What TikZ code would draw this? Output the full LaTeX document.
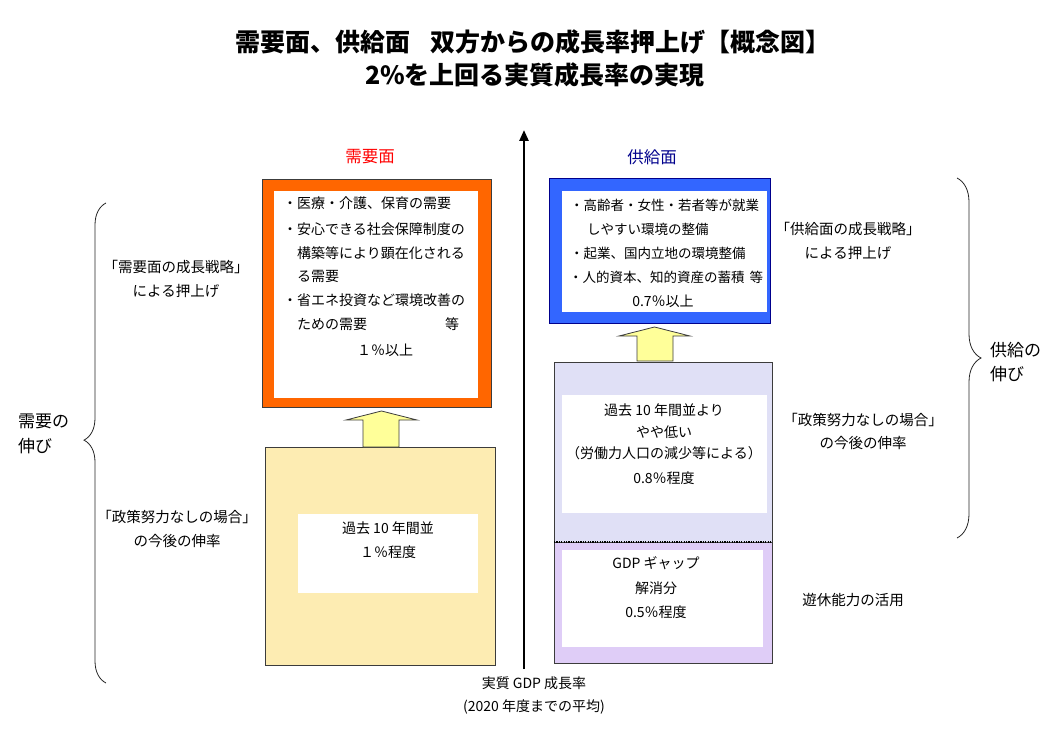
\documentclass[tikz,border=0pt]{standalone}
\usepackage{fontspec}
\setmainfont{Noto Sans CJK JP}
\usetikzlibrary{arrows.meta,decorations.pathreplacing}
\newcommand\myfs[1]{\fontsize{#1}{#1}\selectfont}
\definecolor{orng}{RGB}{255,102,0}
\definecolor{blu}{RGB}{51,102,255}
\definecolor{ylw}{RGB}{253,236,178}
\definecolor{lav}{RGB}{224,224,246}
\definecolor{purp}{RGB}{223,205,247}
\definecolor{arrowy}{RGB}{255,255,153}
\definecolor{navy}{RGB}{0,0,140}
\definecolor{edge}{RGB}{60,60,60}
\tikzset{
  box/.style={anchor=north west, inner sep=0pt, outer sep=0pt},
  txt/.style={inner sep=0pt, font=\myfs{14}},
  btxt/.style={inner sep=0pt, font=\myfs{13.5}},
  lbl/.style={inner sep=0pt, font=\myfs{14.5}},
  big/.style={inner sep=0pt, font=\myfs{17}},
  barrow/.style={draw=edge, line width=0.8pt, fill=arrowy, line join=miter},
  bracestyle/.style={draw=black!85, line width=0.8pt, decorate},
}
\begin{document}
\begin{tikzpicture}[x=1pt,y=-1pt]
\useasboundingbox (0,0) rectangle (1052,738);

% title
\node[inner sep=0pt, font=\bfseries\myfs{25}] (t1) at (533,42) {需要面、供給面\hspace{0.8em}双方からの成長率押上げ【概念図】};
\node[inner sep=0pt, font=\bfseries\myfs{25}] (t2) at (535,75) {2\%を上回る実質成長率の実現};

% axis
\coordinate (axb) at (524,669);
\coordinate (axt) at (524,130);
\draw[line width=2.4pt, -{Triangle[length=11pt,width=9pt]}] (axb) -- (axt);
\node[inner sep=0pt, font=\myfs{14}] (ax1) at (534,683) {実質 GDP 成長率};
\node[inner sep=0pt, font=\myfs{14}] (ax2) at (534,707) {(2020 年度までの平均)};

% column headings
\node[inner sep=0pt, font=\myfs{16.5}, text=red] (hd) at (370,157) {需要面};
\node[inner sep=0pt, font=\myfs{16.5}, text=navy] (hs) at (652,157) {供給面};

% demand side boxes
\node[box, draw=edge, line width=0.6pt, fill=orng, minimum width=229pt, minimum height=228pt] (demo) at (262,179) {};
\node[box, fill=white, minimum width=204pt, minimum height=207pt] (demi) at (274,191) {};
\node[box, draw=edge, line width=0.6pt, fill=ylw, minimum width=230pt, minimum height=218pt] (yel) at (265,447) {};
\node[box, fill=white, minimum width=180pt, minimum height=79pt] (yeli) at (298,514) {};

% supply side boxes
\node[box, draw=navy, line width=0.6pt, fill=blu, minimum width=221pt, minimum height=145pt] (sup) at (549,178) {};
\node[box, fill=white, minimum width=205pt, minimum height=121pt] (supi) at (562,191) {};
\node[box, draw=edge, line width=0.6pt, fill=lav, minimum width=218pt, minimum height=180pt] (dot) at (554,362) {};
\node[box, fill=white, minimum width=205pt, minimum height=118pt] (doti) at (562,395) {};
\node[box, draw=edge, line width=0.6pt, fill=purp, minimum width=218pt, minimum height=121pt] (pur) at (554,542) {};
\node[box, fill=white, minimum width=201pt, minimum height=97pt] (puri) at (562,550) {};
\draw[line width=1.8pt, dash pattern=on 1.2pt off 1.2pt] (dot.south west) -- (dot.south east);

% block arrows
\draw[barrow] (363,447) -- (363,420) -- (346,420) -- (381.5,411) -- (417,420) -- (399,420) -- (399,447) -- cycle;
\draw[barrow] (637,361) -- (637,336) -- (619,336) -- (654.5,327) -- (690,336) -- (673,336) -- (673,361) -- cycle;

% orange box text
\node[txt, anchor=west] (o1) at (283,203) {・医療・介護、保育の需要};
\node[txt, anchor=west] (o2) at (283,229) {・安心できる社会保障制度の};
\node[txt, anchor=west] (o3) at (297,253) {構築等により顕在化される};
\node[txt, anchor=west] (o4) at (297,276) {る需要};
\node[txt, anchor=west] (o5) at (283,300) {・省エネ投資など環境改善の};
\node[txt, anchor=west] (o6) at (297,324) {ための需要\hspace{78pt}等};
\node[txt] (o7) at (385,350) {１％以上};

% yellow box text
\node[txt] (y1) at (388,528) {過去 10 年間並};
\node[txt] (y2) at (388,552) {１％程度};

% blue box text
\node[btxt, anchor=west] (b1) at (570,205) {・高齢者・女性・若者等が就業};
\node[btxt, anchor=west] (b2) at (587,229) {しやすい環境の整備};
\node[btxt, anchor=west] (b3) at (570,253) {・起業、国内立地の環境整備};
\node[btxt, anchor=west] (b4) at (569,277) {・人的資本、知的資産の蓄積\hspace{5pt}等};
\node[txt] (b5) at (663,301) {0.7％以上};

% dotted box text
\node[txt] (d1) at (664,410) {過去 10 年間並より};
\node[txt] (d2) at (664,432) {やや低い};
\node[txt] (d3) at (664,453) {（労働力人口の減少等による）};
\node[txt] (d4) at (664,478) {0.8％程度};

% purple box text
\node[txt] (p1) at (656,563) {GDP ギャップ};
\node[txt] (p2) at (656,588) {解消分};
\node[txt] (p3) at (656,612) {0.5％程度};

% left labels
\node[lbl] (l1) at (176,267) {「需要面の成長戦略」};
\node[lbl] (l2) at (176,291) {による押上げ};
\node[lbl] (l3) at (177,517) {「政策努力なしの場合」};
\node[lbl] (l4) at (177,541) {の今後の伸率};
\node[big, anchor=west] (l5) at (18,421) {需要の};
\node[big, anchor=west] (l6) at (18,446) {伸び};

% right labels
\node[lbl] (r1) at (848,229) {「供給面の成長戦略」};
\node[lbl] (r2) at (848,253) {による押上げ};
\node[lbl] (r3) at (863,420) {「政策努力なしの場合」};
\node[lbl] (r4) at (863,443) {の今後の伸率};
\node[lbl] (r5) at (853,600) {遊休能力の活用};
\node[big, anchor=west] (r6) at (990,350) {供給の};
\node[big, anchor=west] (r7) at (990,374) {伸び};

% braces
\coordinate (lbb) at (106,683);
\coordinate (lbt) at (106,203);
\draw[bracestyle, decoration={brace, amplitude=22pt, aspect=0.506}] (lbb) -- (lbt);
\coordinate (rbt) at (957,178);
\coordinate (rbb) at (957,538);
\draw[bracestyle, decoration={brace, amplitude=24pt, aspect=0.5}] (rbt) -- (rbb);
\end{tikzpicture}
\end{document}
